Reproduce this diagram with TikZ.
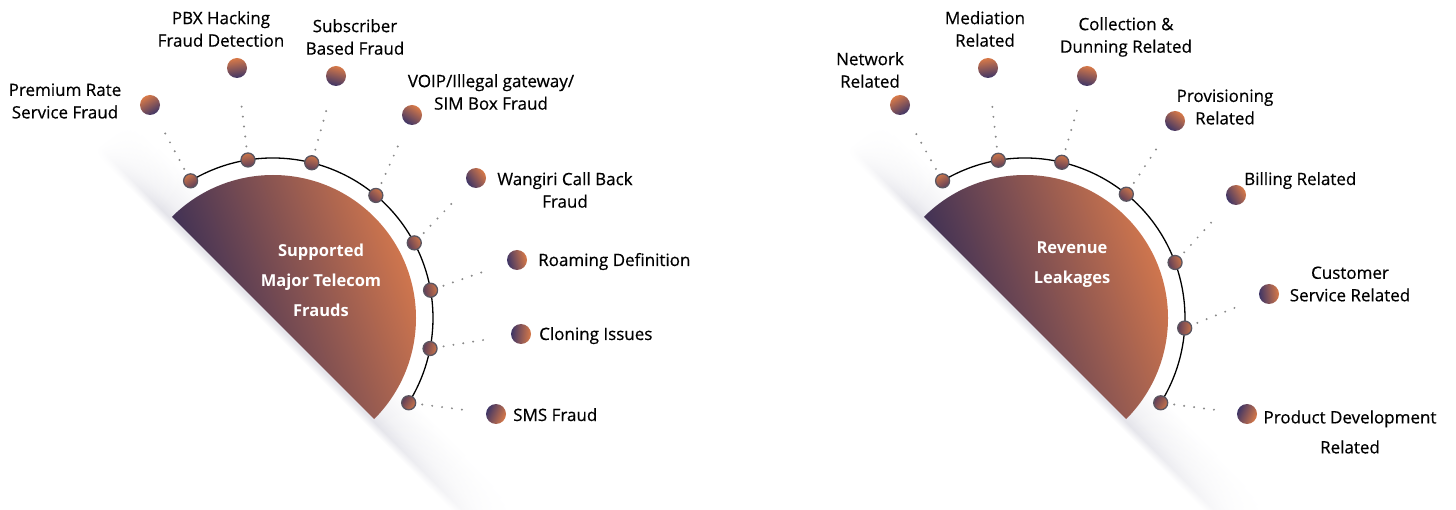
\documentclass[tikz,border=0pt]{standalone}
\usepackage{fontspec}
\setmainfont{Open Sans}
\newfontfamily\lblfont{Open Sans}[FakeBold=0.5]
\usetikzlibrary{fadings}
\definecolor{discnv}{HTML}{2B2756}
\definecolor{discor}{HTML}{DE7D4D}
\definecolor{ballor}{HTML}{D97A48}
\definecolor{ballnv}{HTML}{3E3566}
\definecolor{ibtop}{HTML}{CC7549}
\definecolor{ibbot}{HTML}{5E3E58}
\definecolor{dotgray}{HTML}{8A8A8A}
\definecolor{ringgray}{HTML}{5A5560}
\definecolor{bandgray}{HTML}{E4E4EA}
\definecolor{bandgray2}{HTML}{F1F1F4}
\pgfdeclareverticalshading{bandsh}{100bp}{color(0bp)=(white); color(25bp)=(white); color(33bp)=(bandgray); color(45bp)=(bandgray2); color(75bp)=(white); color(100bp)=(white)}
\pgfdeclarehorizontalshading{bandfadesh}{100bp}{color(0bp)=(pgftransparent!100); color(25bp)=(pgftransparent!100); color(33bp)=(pgftransparent!0); color(60bp)=(pgftransparent!0); color(75bp)=(pgftransparent!100); color(100bp)=(pgftransparent!100)}
\pgfdeclarefading{bandfade}{\pgfuseshading{bandfadesh}}
\tikzset{
  oball/.style={circle, inner sep=0pt, minimum size=20pt, top color=ballor, bottom color=ballnv, shading angle=#1},
  iball/.style={circle, inner sep=0pt, minimum size=14pt, draw=ringgray, line width=1.3pt, top color=ibtop, bottom color=ibbot, shading angle=#1},
  dotline/.style={dotgray, line width=2.2pt, line cap=round, dash pattern=on 0pt off 10pt, shorten <=6pt, shorten >=20pt},
  lbl/.style={align=center, inner sep=0pt, font=\lblfont\fontsize{17}{22.5}\selectfont},
  title/.style={align=center, inner sep=0pt, text=white, font=\fontsize{16.5}{30}\selectfont\bfseries},
  ringarc/.style={black, line width=1.3pt},
  disc/.style={top color=discnv, bottom color=discor, shading angle=110},
  band/.style={shading=bandsh, path fading=bandfade}
}
\begin{document}
\begin{tikzpicture}[x=1pt,y=-1pt]
\useasboundingbox (0,0) rectangle (1456,510);
% ---------- shadow bands ----------
\begin{scope}[transform canvas={shift={(100,145)}, rotate=-45}]
  \shade[band] (0,10) rectangle (560,-40);
\end{scope}
\begin{scope}[transform canvas={shift={(852,145)}, rotate=-45}]
  \shade[band] (0,10) rectangle (560,-40);
\end{scope}
% ---------- LEFT ----------
\coordinate (LC) at (273,318);
\shade[disc] ([shift={(-135:143)}]LC) arc[start angle=-135, end angle=45, radius=143] -- cycle;
\draw[ringarc] ([shift={(-121:160)}]LC) arc[start angle=-121, end angle=32, radius=160];
\node[title] (Ltitle) at (321,280) {Supported\\Major Telecom\\Frauds};

\node[iball=31]  (Li1) at ([shift={(-121:160)}]LC) {};
\node[iball=9]   (Li2) at ([shift={(-99:160)}]LC) {};
\node[iball=-14] (Li3) at ([shift={(-76:160)}]LC) {};
\node[iball=-40] (Li4) at ([shift={(-50:160)}]LC) {};
\node[iball=-62] (Li5) at ([shift={(-28:160)}]LC) {};
\node[iball=-80] (Li6) at ([shift={(-10:160)}]LC) {};
\node[iball=-101](Li7) at ([shift={(11:160)}]LC) {};
\node[iball=-122](Li8) at ([shift={(32:160)}]LC) {};

\node[oball=30]  (Lo1) at (150,105) {};
\node[oball=8]   (Lo2) at (237,68) {};
\node[oball=-15] (Lo3) at (336,76) {};
\node[oball=-34] (Lo4) at (412,115) {};
\node[oball=-55] (Lo5) at (476,178) {};
\node[oball=-77] (Lo6) at (517,260) {};
\node[oball=-94] (Lo7) at (521,334) {};
\node[oball=-113](Lo8) at (496,414) {};

\foreach \i in {1,...,8}{\draw[dotline] (Li\i) -- (Lo\i);}

\node[lbl] (Lt1) at (65,101) {Premium Rate\\Service Fraud};
\node[lbl] (Lt2) at (221,29) {PBX Hacking\\Fraud Detection};
\node[lbl] (Lt3) at (355,37) {Subscriber\\Based Fraud};
\node[lbl] (Lt4) at (491,92) {VOIP/Illegal gateway/\\SIM Box Fraud};
\node[lbl] (Lt5) at (565,190) {Wangiri Call Back\\Fraud};
\node[lbl, anchor=base west] (Lt6) at (538,266) {Roaming Definition};
\node[lbl, anchor=base west] (Lt7) at (539,340) {Cloning Issues};
\node[lbl, anchor=base west] (Lt8) at (513,421) {SMS Fraud};

% ---------- RIGHT ----------
\coordinate (RC) at (1025,318);
\shade[disc] ([shift={(-135:143)}]RC) arc[start angle=-135, end angle=45, radius=143] -- cycle;
\draw[ringarc] ([shift={(-121:160)}]RC) arc[start angle=-121, end angle=32, radius=160];
\node[title] (Rtitle) at (1072,265) {Revenue\\Leakages};

\node[iball=31]  (Ri1) at ([shift={(-121:160)}]RC) {};
\node[iball=10]  (Ri2) at ([shift={(-99.6:160)}]RC) {};
\node[iball=-13] (Ri3) at ([shift={(-76.7:160)}]RC) {};
\node[iball=-39] (Ri4) at ([shift={(-50.7:160)}]RC) {};
\node[iball=-70] (Ri5) at ([shift={(-20.3:160)}]RC) {};
\node[iball=-94] (Ri6) at ([shift={(3.6:160)}]RC) {};
\node[iball=-122](Ri7) at ([shift={(32:160)}]RC) {};

\node[oball=30]  (Ro1) at (900,105) {};
\node[oball=8]   (Ro2) at (988,68) {};
\node[oball=-14] (Ro3) at (1087,76) {};
\node[oball=-37] (Ro4) at (1175,121) {};
\node[oball=-60] (Ro5) at (1236,195) {};
\node[oball=-84] (Ro6) at (1269,294) {};
\node[oball=-113](Ro7) at (1247,414) {};

\foreach \i in {1,...,7}{\draw[dotline] (Ri\i) -- (Ro\i);}

\node[lbl] (Rt1) at (870,70) {Network\\Related};
\node[lbl] (Rt2) at (985,29) {Mediation\\Related};
\node[lbl] (Rt3) at (1126,37) {Collection \&\\Dunning Related};
\node[lbl] (Rt4) at (1225,107) {Provisioning\\Related};
\node[lbl, anchor=base west] (Rt5) at (1244,185) {Billing Related};
\node[lbl] (Rt6) at (1350,284) {Customer\\Service Related};
\node[lbl, font=\lblfont\fontsize{17}{30}\selectfont] (Rt7) at (1350,432) {Product Development\\Related};
\end{tikzpicture}
\end{document}
